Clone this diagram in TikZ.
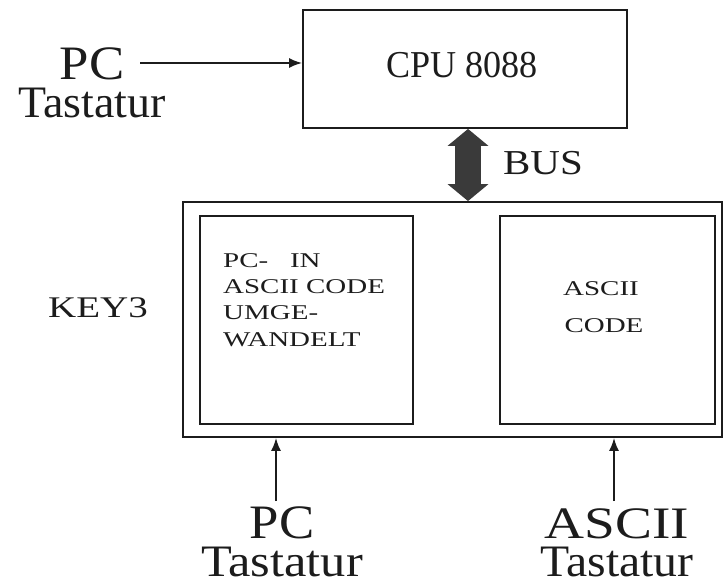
\documentclass[tikz,border=0pt]{standalone}
\usepackage{fontspec}
\setmainfont{Liberation Serif}
\usetikzlibrary{arrows.meta}
\definecolor{ink}{RGB}{28,28,28}
\definecolor{busgray}{RGB}{58,58,58}
\newcommand{\bigline}[2]{{\fontsize{48}{38}\selectfont\scalebox{#1}[1]{#2}}}
\newcommand{\midline}[2]{{\fontsize{45}{38}\selectfont\scalebox{#1}[1]{#2}}}
\begin{document}
\begin{tikzpicture}[x=1pt,y=-1pt,
  box/.style={draw=ink,line width=1.8pt,inner sep=0pt},
  lbl/.style={text=ink,inner sep=0pt,anchor=base},
  stack/.style={text=ink,inner sep=0pt,anchor=south,align=center,font=\fontsize{45}{38}\selectfont},
  thinarrow/.style={draw=ink,line width=1.8pt,-{Latex[length=13pt,width=10pt]}},
  busarrow/.style={draw=busgray,line width=26pt,{Triangle[length=17pt,width=40pt]}-{Triangle[length=17pt,width=40pt]}},
  small/.style={lbl,font=\fontsize{21}{24}\selectfont}]
\useasboundingbox (0,0) rectangle (725,580);
% boxes
\node[box,minimum width=324pt,minimum height=118pt] (cpu) at (465,69) {};
\node[lbl,font=\fontsize{38}{40}\selectfont] (cputxt) at (462,78) {\scalebox{0.95}[1]{CPU 8088}};
\node[box,minimum width=539pt,minimum height=235pt] (key3) at (452.5,319.5) {};
\node[box,minimum width=213pt,minimum height=208pt] (inL) at (306.5,320) {};
\node[box,minimum width=215pt,minimum height=208pt] (inR) at (607.5,320) {};
% inner texts
\node[small,anchor=base west] (txtL1) at (223,267) {\scalebox{1.38}[1]{PC-\ \ \ IN}};
\node[small,anchor=base west] (txtL2) at (223,293) {\scalebox{1.38}[1]{ASCII CODE}};
\node[small,anchor=base west] (txtL3) at (223,319) {\scalebox{1.38}[1]{UMGE-}};
\node[small,anchor=base west] (txtL4) at (223,346) {\scalebox{1.38}[1]{WANDELT}};
\node[small] (txtR1) at (601,295) {\scalebox{1.38}[1]{ASCII}};
\node[small] (txtR2) at (604,332) {\scalebox{1.38}[1]{CODE}};
% labels
\node[lbl,font=\fontsize{30}{32}\selectfont] (key3lbl) at (98,317) {\scalebox{1.3}[1]{KEY3}};
\node[lbl,font=\fontsize{35}{37}\selectfont] (bus) at (543,175) {\scalebox{1.17}[1]{BUS}};
\node[stack] (pcT) at (92,118) {\bigline{1.1}{PC}\\\midline{1.02}{Tastatur}};
\node[stack] (pcB) at (282,577) {\bigline{1.1}{PC}\\\midline{1.12}{Tastatur}};
\node[stack] (asciiB) at (617,577) {\midline{1.23}{ASCII}\\\midline{1.06}{Tastatur}};
% connectors
\coordinate (pcTs) at (140,63);
\draw[thinarrow] (pcTs) -- (pcTs -| cpu.west);
\coordinate (pcBs) at (276,501);
\draw[thinarrow] (pcBs) -- (pcBs |- key3.south);
\coordinate (asBs) at (614,501);
\draw[thinarrow] (asBs) -- (asBs |- key3.south);
\coordinate (busx) at (468,0);
\draw[busarrow] (busx |- cpu.south) -- (busx |- key3.north);
\end{tikzpicture}
\end{document}
